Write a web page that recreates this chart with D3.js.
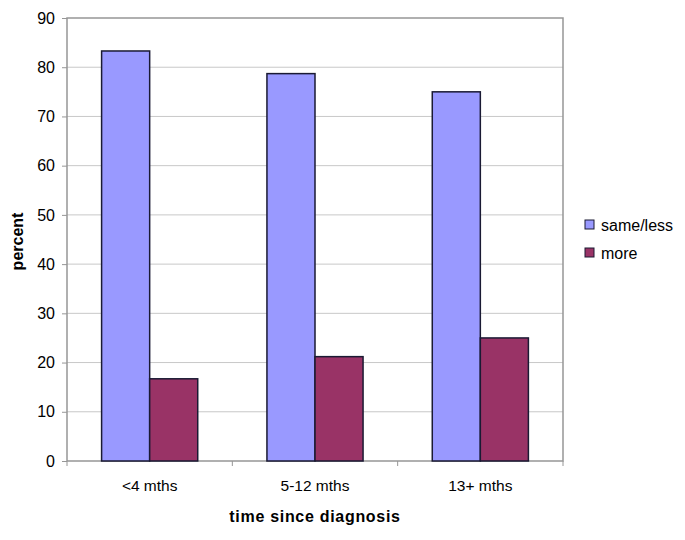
<!DOCTYPE html>
<html>
<head>
<meta charset="utf-8">
<script src="https://cdn.jsdelivr.net/npm/d3@7"></script>
<style>
  html, body { margin: 0; padding: 0; background: #fff; }
  svg { display: block; font-family: Arial, "Liberation Sans", sans-serif; }
</style>
</head>
<body>
<div id="chart"></div>
<script>
// grouped bars: percent by time since diagnosis
const categories = ["<4 mths", "5-12 mths", "13+ mths"];
const seriesNames = ["same/less", "more"];
const sameLess = [83.3, 78.7, 75.0];
const more = [16.7, 21.2, 25.0];
const yTicks = [0, 10, 20, 30, 40, 50, 60, 70, 80, 90];
const colors = ["#9999ff", "#993366"];

(function () {
  const W = 685, H = 540;
  const M = { left: 67, right: 122, top: 18, bottom: 79 };

  const svg = d3.select("#chart").append("svg")
    .attr("width", W).attr("height", H);

  const x = d3.scaleBand().domain(categories)
    .range([M.left, W - M.right]).paddingInner(0).paddingOuter(0);
  const x1 = d3.scaleBand().domain(seriesNames)
    .range([0, x.bandwidth()]).paddingInner(0).paddingOuter(0.72);
  const y = d3.scaleLinear().domain([0, 90]).range([H - M.bottom, M.top]);

  // gridlines
  svg.append("g").selectAll("line").data(yTicks.filter(d => d > 0 && d < 90)).join("line")
    .attr("x1", M.left).attr("x2", W - M.right)
    .attr("y1", d => y(d)).attr("y2", d => y(d))
    .attr("stroke", "#c8c8c8").attr("stroke-width", 1);

  // plot frame
  svg.append("rect")
    .attr("x", M.left).attr("y", M.top)
    .attr("width", W - M.left - M.right).attr("height", H - M.top - M.bottom)
    .attr("fill", "none").attr("stroke", "#969696").attr("stroke-width", 1.5);

  const rows = categories.map((c, i) => ({ cat: c, vals: [sameLess[i], more[i]] }));

  svg.append("g").selectAll("g").data(rows).join("g")
    .attr("transform", d => `translate(${x(d.cat)},0)`)
    .selectAll("rect").data(d => d.vals.map((v, j) => ({ name: seriesNames[j], v, j }))).join("rect")
    .attr("x", d => x1(d.name))
    .attr("y", d => y(d.v))
    .attr("width", x1.bandwidth())
    .attr("height", d => y(0) - y(d.v))
    .attr("fill", d => colors[d.j])
    .attr("stroke", "#1a1a33").attr("stroke-width", 1.5);

  // y axis
  const yAxis = svg.append("g").attr("transform", `translate(${M.left},0)`)
    .call(d3.axisLeft(y).tickValues(yTicks).tickSize(5).tickPadding(7));
  yAxis.select(".domain").remove();
  yAxis.selectAll("line").attr("stroke", "#969696");
  yAxis.selectAll("text").attr("font-size", 16).attr("fill", "#000")
    .style("font-family", "Arial, 'Liberation Sans', sans-serif");

  // x axis
  const xTickScale = d3.scaleLinear().domain([0, 3]).range([M.left, W - M.right]);
  svg.append("g").selectAll("line").data([0, 1, 2, 3]).join("line")
    .attr("x1", d => xTickScale(d)).attr("x2", d => xTickScale(d))
    .attr("y1", y(0)).attr("y2", y(0) + 5)
    .attr("stroke", "#969696");
  svg.append("g").selectAll("text").data(categories).join("text")
    .attr("x", d => x(d) + x.bandwidth() / 2)
    .attr("y", y(0) + 30)
    .attr("text-anchor", "middle")
    .attr("font-size", 15.5)
    .text(d => d);

  // axis titles
  svg.append("text")
    .attr("x", x.range()[0] + (x.range()[1] - x.range()[0]) / 2)
    .attr("y", 522)
    .attr("text-anchor", "middle")
    .attr("font-size", 16).attr("font-weight", "bold")
    .attr("letter-spacing", 0.7)
    .text("time since diagnosis");

  svg.append("text")
    .attr("transform", `translate(23,${(M.top + H - M.bottom) / 2 + 2}) rotate(-90)`)
    .attr("text-anchor", "middle")
    .attr("font-size", 16).attr("font-weight", "bold")
    .text("percent");

  // legend
  const leg = svg.append("g").attr("transform", "translate(585,225)");
  const li = leg.selectAll("g").data(seriesNames).join("g")
    .attr("transform", (d, i) => `translate(0,${i * 28})`);
  li.append("rect").attr("x", 0).attr("y", -5).attr("width", 9).attr("height", 9)
    .attr("fill", (d, i) => colors[i]).attr("stroke", "#1a1a33").attr("stroke-width", 1);
  li.append("text").attr("x", 16).attr("y", 5.5).attr("font-size", 16).text(d => d);
})();
</script>
</body>
</html>
